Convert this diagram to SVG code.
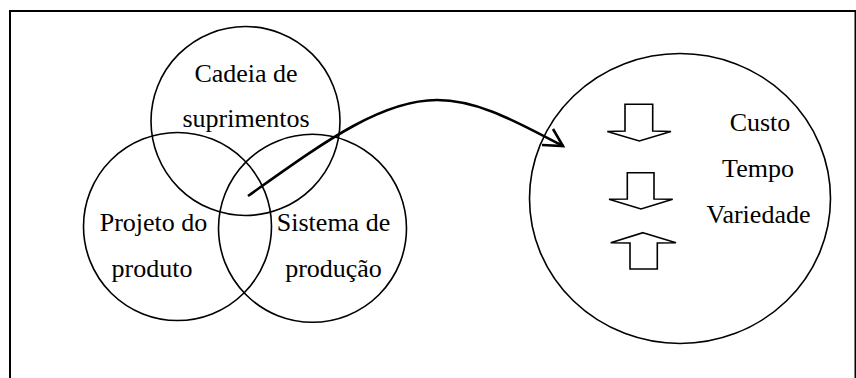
<svg xmlns="http://www.w3.org/2000/svg" width="856" height="378" viewBox="0 0 856 378">
<style>
.c{fill:none;stroke:#000;stroke-width:1.6}
.t{font-family:"Liberation Serif","Times New Roman",serif;font-size:26px;fill:#000;text-anchor:middle}
.b{fill:#fff;stroke:#000;stroke-width:1.6;stroke-linejoin:miter}
.con{fill:none;stroke:#000;stroke-width:2.6}
</style>
<rect width="856" height="378" fill="#fff"/>
<path d="M10,378 V11 H855.5 V378" fill="none" stroke="#000" stroke-width="2"/>
<g id="cadeia">
<circle class="c" cx="245.5" cy="121" r="94.5"/>
<text class="t" x="246" y="82">Cadeia de</text>
<text class="t" x="246" y="127">suprimentos</text>
</g>
<g id="projeto">
<circle class="c" cx="177.5" cy="226.5" r="94"/>
<text class="t" x="153.5" y="231">Projeto do</text>
<text class="t" x="152" y="277">produto</text>
</g>
<g id="sistema">
<circle class="c" cx="312.5" cy="228.3" r="94"/>
<text class="t" x="333.5" y="231">Sistema de</text>
<text class="t" x="333.5" y="277">produção</text>
</g>
<g id="resultado">
<ellipse class="c" cx="680" cy="198.5" rx="150.5" ry="145"/>
<polygon class="b" points="625,104.3 652.7,104.3 652.7,131 671,131.5 639.3,141 607.3,131.5 625,131"/>
<polygon class="b" points="627.3,172.7 654,172.7 654,199 672.7,199.3 641,209 609,199.3 627.3,199"/>
<polygon class="b" points="643,232.7 676,242.7 657.3,243 657.3,269 630,269 630,243 610.7,242.7"/>
<text class="t" x="760" y="131">Custo</text>
<text class="t" x="758" y="177">Tempo</text>
<text class="t" x="758.5" y="223">Variedade</text>
</g>
<g id="connectors">
<path class="con" d="M248,196 C320,145 380,100 437,100 C480,100 520,124 563,146"/>
<polyline class="con" points="553,129 563,146 542,145"/>
</g>
</svg>
